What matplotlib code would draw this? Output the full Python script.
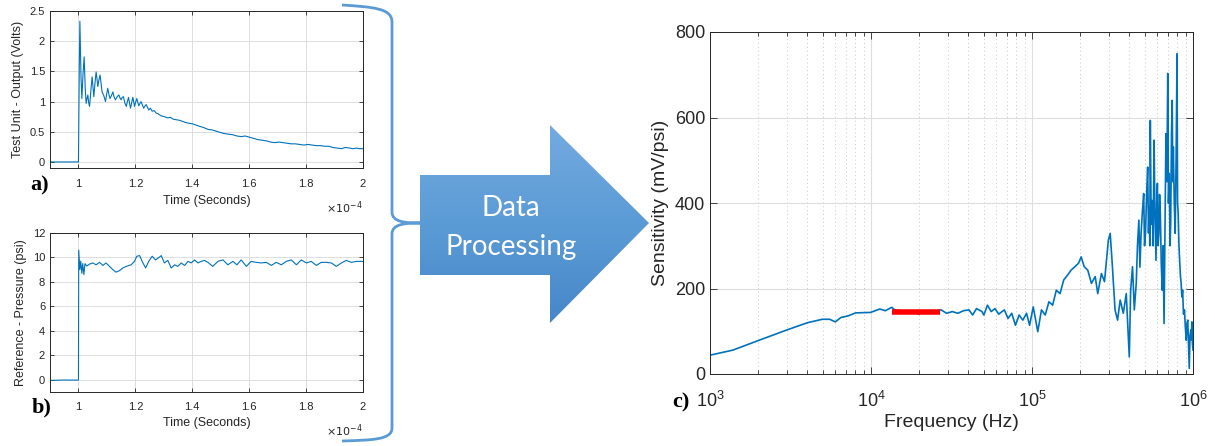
import numpy as np
import matplotlib
matplotlib.use('Agg')
from matplotlib import pyplot as plt
from matplotlib.path import Path
from matplotlib.patches import PathPatch, Polygon
from matplotlib.colors import LinearSegmentedColormap
from matplotlib.ticker import FuncFormatter, LogLocator, NullFormatter

plt.rcParams['font.family'] = ['Liberation Sans', 'DejaVu Sans']

W, H = 1215, 446
LINE = '#0072BD'
DARK = '#262626'

# a) test unit output voltage, time in units of 1e-4 s
t_a = [0.90, 0.95, 0.999, 1.000, 1.003, 1.005, 1.009, 1.012, 1.016, 1.020,
       1.024, 1.027, 1.030, 1.033, 1.036, 1.039, 1.044, 1.048, 1.051, 1.054,
       1.058, 1.062, 1.065, 1.068, 1.072, 1.076, 1.080, 1.083, 1.089, 1.095,
       1.099, 1.103, 1.107, 1.111, 1.116, 1.121, 1.125, 1.130, 1.136, 1.142,
       1.146, 1.150, 1.154, 1.158, 1.163, 1.168, 1.172, 1.176, 1.180, 1.183,
       1.187, 1.191, 1.194, 1.197, 1.201, 1.205, 1.209, 1.212, 1.216, 1.220,
       1.225, 1.229, 1.234, 1.238, 1.243, 1.247, 1.253, 1.259, 1.266, 1.273,
       1.279, 1.285, 1.293, 1.302, 1.308, 1.314, 1.323, 1.332, 1.343, 1.355,
       1.367, 1.379, 1.390, 1.402, 1.414, 1.426, 1.440, 1.455, 1.470, 1.484,
       1.498, 1.513, 1.528, 1.543, 1.557, 1.572, 1.586, 1.601, 1.616, 1.631,
       1.645, 1.660, 1.675, 1.689, 1.704, 1.719, 1.733, 1.748, 1.763, 1.777,
       1.792, 1.807, 1.821, 1.836, 1.851, 1.865, 1.880, 1.894, 1.909, 1.924,
       1.938, 1.953, 1.965, 1.977, 1.988, 2.000]
v_a = [0.0, 0.0, 0.0, 0.0, 1.60, 2.33, 1.40, 1.05, 1.45, 1.74,
       1.20, 0.97, 1.05, 1.11, 0.98, 0.92, 1.20, 1.41, 1.25, 1.08,
       1.30, 1.49, 1.38, 1.25, 1.36, 1.44, 1.28, 1.16, 1.10, 1.00,
       1.12, 1.22, 1.12, 1.05, 1.10, 1.16, 1.08, 1.03, 1.08, 1.11,
       1.06, 1.03, 1.07, 1.08, 0.98, 0.92, 1.00, 1.07, 0.96, 0.89,
       0.98, 1.07, 1.00, 0.92, 0.99, 1.05, 0.98, 0.93, 0.97, 1.00,
       0.94, 0.89, 0.93, 0.95, 0.90, 0.86, 0.89, 0.84, 0.85, 0.81,
       0.80, 0.78, 0.76, 0.75, 0.74, 0.73, 0.74, 0.71, 0.70, 0.69,
       0.67, 0.65, 0.64, 0.63, 0.61, 0.59, 0.57, 0.54, 0.53, 0.51,
       0.49, 0.47, 0.46, 0.45, 0.43, 0.42, 0.43, 0.41, 0.39, 0.37,
       0.36, 0.35, 0.33, 0.32, 0.33, 0.32, 0.31, 0.30, 0.30, 0.29,
       0.28, 0.29, 0.28, 0.27, 0.27, 0.26, 0.26, 0.24, 0.23, 0.22,
       0.24, 0.23, 0.22, 0.23, 0.22, 0.22]

# b) reference pressure
t_b = [0.90, 0.95, 0.999, 1.000, 1.001, 1.005, 1.008, 1.012, 1.015, 1.019,
       1.023, 1.029, 1.039, 1.050, 1.062, 1.074, 1.086, 1.097, 1.109, 1.121,
       1.132, 1.144, 1.156, 1.168, 1.185, 1.197, 1.205, 1.215, 1.224, 1.236,
       1.247, 1.259, 1.271, 1.283, 1.291, 1.302, 1.314, 1.326, 1.338, 1.349,
       1.361, 1.373, 1.385, 1.396, 1.408, 1.420, 1.431, 1.443, 1.455, 1.472,
       1.490, 1.508, 1.525, 1.543, 1.557, 1.572, 1.590, 1.607, 1.625, 1.642,
       1.660, 1.678, 1.695, 1.713, 1.730, 1.748, 1.766, 1.783, 1.801, 1.818,
       1.836, 1.853, 1.871, 1.889, 1.906, 1.924, 1.941, 1.959, 1.977, 2.000]
p_b = [-0.05, -0.02, -0.03, 0.0, 10.6, 9.0, 9.7, 8.7, 9.5, 8.6,
       9.5, 9.3, 9.46, 9.55, 9.4, 9.6, 9.35, 9.55, 9.27, 9.0,
       8.8, 8.92, 9.14, 9.27, 9.4, 9.68, 10.1, 10.15, 9.68, 9.14,
       9.68, 10.1, 9.8, 10.0, 10.15, 9.55, 9.76, 9.14, 9.4, 9.27,
       9.55, 9.35, 9.68, 9.55, 9.8, 9.55, 9.68, 9.76, 9.6, 9.27,
       9.68, 9.8, 9.4, 9.68, 9.4, 9.8, 9.27, 9.68, 9.6, 9.55,
       9.6, 9.35, 9.6, 9.4, 9.68, 9.8, 9.4, 9.8, 9.55, 9.68,
       9.35, 9.6, 9.6, 9.55, 9.27, 9.55, 9.76, 9.6, 9.68, 9.68]

# c) sensitivity spectrum
f_c = [1000, 1390, 2020, 3000, 4030, 4980, 5540, 6000, 6490, 7210,
       8030, 9930, 11350, 12280, 13450, 14030, 16000, 18000, 19800, 21500,
       24000, 26000, 27240, 29500, 32000, 34600, 37500, 40600, 42800, 45200,
       48900, 50200, 52900, 55800, 58900, 62100, 67300, 71000, 74800, 78900,
       83200, 87700, 92500, 96600, 101800, 108600, 114500, 120800, 127400, 134300,
       141600, 149300, 157400, 166000, 175000, 184500, 194500, 202000, 211000, 222000,
       234000, 247000, 256000, 270000, 282000, 298000, 306000, 314000, 328000, 340000,
       353000, 369000, 385000, 402000, 410000, 421000, 432000, 444000, 452000, 461000,
       468000, 476000, 485000, 494000, 500000, 507000, 515000, 523000, 529000, 535000,
       539000, 543000, 550000, 558000, 565000, 573000, 580000, 589000, 595000, 601000,
       607000, 614000, 620000, 627000, 635000, 644000, 652000, 661000, 670000, 679000,
       688000, 697000, 704000, 712000, 720000, 727000, 735000, 743000, 749000, 755000,
       765000, 775000, 785000, 796000, 802000, 809000, 818000, 826000, 835000, 844000,
       853000, 862000, 873000, 885000, 896000, 908000, 918000, 928000, 938000, 948000,
       958000, 969000, 976000, 984000, 992000, 1000000]
s_c = [44, 56, 79, 103, 120, 128, 128, 122, 132, 136,
       143, 144, 152, 148, 156, 150, 147, 146, 140, 147,
       145, 148, 150, 142, 146, 142, 148, 150, 138, 153,
       146, 138, 161, 146, 153, 140, 150, 130, 142, 114,
       138, 126, 142, 114, 157, 99, 150, 138, 169, 161,
       196, 188, 220, 231, 243, 251, 259, 274, 251, 243,
       212, 228, 188, 235, 216, 313, 329, 266, 150, 126,
       173, 142, 188, 40, 196, 251, 150, 212, 300, 360,
       250, 329, 380, 422, 300, 329, 420, 484, 330, 391,
       300, 593, 350, 406, 300, 547, 380, 266, 400, 446,
       300, 329, 420, 375, 260, 196, 300, 118, 350, 562,
       450, 703, 400, 469, 300, 352, 560, 640, 450, 531,
       400, 329, 500, 749, 400, 375, 300, 266, 230, 212,
       180, 196, 140, 150, 110, 79, 120, 126, 70, 13,
       90, 103, 80, 122, 70, 56]

# flat band average
band_f = [13450, 26850]
band_s = [146, 146]


def px(x, y):
    return x / W, 1 - y / H


def box(l, t, r, b):
    return [l / W, 1 - b / H, (r - l) / W, (b - t) / H]


def style(ax, fs):
    ax.tick_params(which='both', direction='in', top=True, right=True,
                   labelsize=fs, colors=DARK, length=3, width=0.6)
    for sp in ax.spines.values():
        sp.set_color(DARK)
        sp.set_linewidth(0.7)
    ax.set_axisbelow(True)


fig = plt.figure(figsize=(W / 100, H / 100), dpi=100)
fmt = FuncFormatter(lambda v, p: '%g' % v)

ax1 = fig.add_axes(box(50, 11, 363, 168))
ax1.plot(t_a, v_a, color=LINE, linewidth=0.8)
ax1.set_xlim(0.9, 2.0)
ax1.set_ylim(-0.1, 2.5)
ax1.set_xticks([1, 1.2, 1.4, 1.6, 1.8, 2])
ax1.set_yticks([0, 0.5, 1, 1.5, 2, 2.5])
ax1.xaxis.set_major_formatter(fmt)
ax1.yaxis.set_major_formatter(fmt)
ax1.grid(True, color='#dedede', linewidth=0.7)
style(ax1, 8)
ax1.tick_params(axis='x', pad=8)
ax1.set_xlabel('Time (Seconds)', fontsize=9, color=DARK, labelpad=4)
ax1.set_ylabel('Test Unit - Output (Volts)', fontsize=9, color=DARK, labelpad=4)
ax1.text(1.0, -0.2, r'$\times10^{-4}$', transform=ax1.transAxes, ha='right', va='top',
         fontsize=8, color=DARK)

ax2 = fig.add_axes(box(50, 233, 363, 392))
ax2.plot(t_b, p_b, color=LINE, linewidth=0.8)
ax2.set_xlim(0.9, 2.0)
ax2.set_ylim(-1, 12)
ax2.set_xticks([1, 1.2, 1.4, 1.6, 1.8, 2])
ax2.set_yticks([0, 2, 4, 6, 8, 10, 12])
ax2.xaxis.set_major_formatter(fmt)
ax2.grid(True, color='#dedede', linewidth=0.7)
style(ax2, 8)
ax2.tick_params(axis='x', pad=7)
ax2.set_xlabel('Time (Seconds)', fontsize=9, color=DARK, labelpad=4)
ax2.set_ylabel('Reference - Pressure (psi)', fontsize=9, color=DARK, labelpad=4)
ax2.text(1.0, -0.19, r'$\times10^{-4}$', transform=ax2.transAxes, ha='right', va='top',
         fontsize=8, color=DARK)

ax3 = fig.add_axes(box(710, 32, 1193, 374))
ax3.plot(f_c, s_c, color=LINE, linewidth=1.2)
ax3.plot(band_f, band_s, color='#ff0000', linewidth=4, solid_capstyle='butt')
ax3.set_xscale('log')
ax3.set_xlim(1e3, 1e6)
ax3.set_ylim(0, 800)
ax3.set_yticks([0, 200, 400, 600, 800])
ax3.xaxis.set_minor_locator(LogLocator(base=10, subs=np.arange(2, 10)))
ax3.xaxis.set_minor_formatter(NullFormatter())
ax3.grid(True, which='major', color='#dedede', linewidth=0.8)
ax3.grid(True, which='minor', axis='x', color='#c8c8c8', linewidth=0.7, linestyle=(0, (1, 3)))
style(ax3, 13)
ax3.tick_params(which='major', length=5)
ax3.tick_params(axis='x', pad=12)
ax3.set_xlabel('Frequency (Hz)', fontsize=14, color=DARK, labelpad=2)
ax3.set_ylabel('Sensitivity (mV/psi)', fontsize=14, color=DARK, labelpad=4)

for lab, (x, y) in [('a)', (30, 185)), ('b)', (32, 407)), ('c)', (672, 402))]:
    fig.text(*px(x, y), lab, fontsize=16, fontweight='bold', family='Liberation Serif',
             va='center', ha='left')

# brace and processing arrow drawn in pixel space
ov = fig.add_axes([0, 0, 1, 1], facecolor='none')
ov.set_xlim(0, W)
ov.set_ylim(H, 0)
ov.axis('off')

C = Path.CURVE4
brace = Path([(342, 5), (372, 7), (392, 8), (392, 22),
              (392, 212), (392, 222), (405, 223), (420, 223),
              (405, 223), (392, 224), (392, 234), (392, 428),
              (392, 440), (372, 440), (342, 441)],
             [Path.MOVETO, C, C, C, Path.LINETO, C, C, C, C, C, C,
              Path.LINETO, C, C, C])
ov.add_patch(PathPatch(brace, fill=False, edgecolor='#5b9bd5', linewidth=2.0))

arrow_xy = [(420, 175), (550, 175), (550, 125), (649, 223), (550, 323), (550, 275), (420, 275)]
shape = Polygon(arrow_xy, closed=True, facecolor='none', edgecolor='none')
ov.add_patch(shape)
cmap = LinearSegmentedColormap.from_list('fade', ['#74aae0', '#5b9bd5', '#4787c9'])
img = ov.imshow(np.linspace(0, 1, 200).reshape(-1, 1), cmap=cmap, aspect='auto',
                extent=[420, 649, 323, 125], origin='upper')
img.set_clip_path(shape)
ov.set_xlim(0, W)
ov.set_ylim(H, 0)
ov.text(511, 208, 'Data', color='white', fontsize=20, family='Lato', ha='center', va='center')
ov.text(511, 247, 'Processing', color='white', fontsize=20, family='Lato', ha='center', va='center')

fig.savefig('out.png', dpi=100)
